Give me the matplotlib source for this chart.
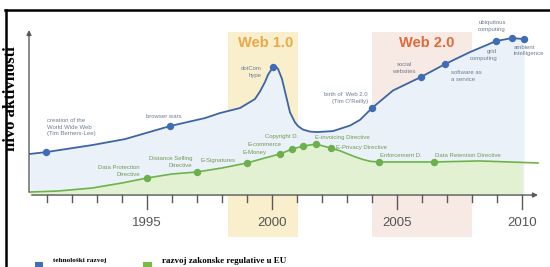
import matplotlib.pyplot as plt
from matplotlib.patches import Rectangle
from matplotlib.lines import Line2D

# tehnoloski razvoj - curve (year, activity level)
tech_years = [1990.32, 1990.96, 1992.8, 1994.12, 1995.92, 1997.32, 1997.92, 1998.72,
              1999.32, 1999.52, 1999.72, 1999.84, 2000.04, 2000.16, 2000.24, 2000.4,
              2000.52, 2000.64, 2000.72, 2000.92, 2001.04, 2001.24, 2001.52, 2001.8,
              2002.44, 2003.12, 2003.52, 2004.0, 2004.44, 2004.84, 2005.96, 2006.92,
              2007.92, 2008.96, 2009.6, 2010.08]
tech_level = [24.6, 25.7, 29.9, 33.5, 41.3, 46.1, 49.1, 52.1,
              57.5, 62.0, 67.7, 72.0, 76.6, 76.8, 75.6, 69.5,
              62.0, 54.5, 49.5, 43.5, 41.3, 39.2, 38.0, 37.7,
              38.3, 41.6, 45.0, 52.1, 57.6, 62.6, 70.7, 78.4,
              85.6, 92.2, 94.0, 93.4]

# regulative curve
law_years = [1990.32, 1991.44, 1992.8, 1994.0, 1995.0, 1996.0, 1997.0, 1998.0,
             1999.0, 1999.72, 2000.32, 2000.8, 2001.24, 2001.76, 2002.36, 2002.72,
             2003.0, 2003.32, 2003.64, 2003.92, 2004.28, 2006.48, 2008.32, 2010.64]
law_level = [1.8, 2.4, 4.2, 7.2, 10.2, 12.6, 13.8, 16.2,
             19.2, 22.2, 24.6, 27.5, 29.3, 30.5, 28.1, 26.5,
             24.8, 22.9, 21.3, 20.2, 19.8, 19.8, 20.4, 19.2]

tech_ev_years = [1990.96, 1995.92, 2000.04, 2004.0, 2005.96, 2006.92, 2008.96, 2009.6, 2010.08]
tech_ev_level = [25.7, 41.3, 76.6, 52.1, 70.7, 78.4, 92.2, 94.0, 93.4]
tech_ev_labels = ["creation of the\nWorld Wide Web\n(Tim Berners-Lee)", "browser wars",
                  "dotCom\nhype", "birth of  Web 2.0\n(Tim O'Reilly)", "social\nwebsites",
                  "software as\na service", "grid\ncomputing", "ubiquitous\ncomputing",
                  "ambient\nintelligence"]

law_ev_years = [1995.0, 1997.0, 1999.0, 2000.32, 2000.8, 2001.24, 2001.76, 2002.36, 2004.28, 2006.48]
law_ev_level = [10.2, 13.8, 19.2, 24.6, 27.5, 29.3, 30.5, 28.1, 19.8, 19.8]
law_ev_labels = ["Data Protection\nDirective", "Distance Selling\nDirective", "E-Signatures",
                 "E-Money", "E-commerce", "Copyright D.", "E-invoicing Directive",
                 "E-Privacy Directive", "Enforcement D.", "Data Retention Directive"]

year_ticks = list(range(1991, 2011))
year_labels = [1995, 2000, 2005, 2010]
eras = ["Web 1.0", "Web 2.0"]
era_spans = [(1998.24, 2001.04), (2004.0, 2008.0)]

# label placement (x, y, ha, multialignment)
tech_pos = [(1991.0, 40.7, 'left', 'left'), (1995.68, 47.3, 'center', 'center'),
            (1999.6, 73.5, 'right', 'right'), (2003.84, 58.1, 'right', 'right'),
            (2005.76, 76.3, 'right', 'center'), (2007.16, 71.3, 'left', 'left'),
            (2009.0, 83.8, 'right', 'right'), (2008.8, 101.2, 'center', 'left'),
            (2009.68, 86.5, 'left', 'left')]
law_pos = [(1994.72, 14.4, 'right', 'right'), (1996.8, 19.8, 'right', 'right'),
           (1997.84, 20.4, 'center', 'center'), (1998.8, 25.7, 'left', 'left'),
           (1999.0, 30.5, 'left', 'left'), (1999.72, 35.3, 'left', 'left'),
           (2001.72, 34.7, 'left', 'left'), (2002.56, 28.7, 'left', 'left'),
           (2004.32, 23.4, 'left', 'left'), (2006.52, 23.4, 'left', 'left')]

fig = plt.figure(figsize=(5.5, 2.67), dpi=100)
ax = fig.add_axes([0, 0, 1, 1])
ax.set_xlim(1989.12, 2011.12)
ax.set_ylim(-43.1, 116.8)
ax.axis('off')

band_cols = ['#f9efcd', '#f7e9e4']
era_cols = ['#e8a94a', '#e06a3c']
for (a, b), c, name, tc in zip(era_spans, band_cols, eras, era_cols):
    ax.add_patch(Rectangle((a, -25.1), b - a, 122.7, color=c, zorder=0, lw=0))
    ax.text((a + b) / 2 + (0.1 if name == "Web 1.0" else 0.2), 91.2, name, color=tc,
            fontsize=10.5, fontweight='bold', family='Liberation Sans',
            ha='center', va='center', zorder=5)

ax.fill_between(tech_years, tech_level, 0, color='#ebf1f8', lw=0, zorder=1)
gfill = ax.fill_between(law_years, law_level, 0, color='#e2f1d2', lw=0, zorder=2)
gfill.set_clip_path(Rectangle((1990.0, -5), 2010.0 - 1990.0, 120, transform=ax.transData))

ax.plot(tech_years, tech_level, color='#3d64a3', lw=1.3, zorder=3, solid_joinstyle='round')
ax.plot(law_years, law_level, color='#6cb34a', lw=1.2, zorder=3, solid_joinstyle='round')
ax.plot(tech_ev_years, tech_ev_level, 'o', color='#3f6db5', ms=4.3, zorder=4)
ax.plot(law_ev_years, law_ev_level, 'o', color='#6ab04c', ms=4.3, zorder=4)

for lab, (x, y, ha, ma) in zip(tech_ev_labels, tech_pos):
    ax.text(x, y, lab, fontsize=4.3, color='#6d7d92', ha=ha, va='center',
            multialignment=ma, linespacing=1.45, family='Liberation Sans', zorder=5)
for lab, (x, y, ha, ma) in zip(law_ev_labels, law_pos):
    ax.text(x, y, lab, fontsize=4.3, color='#6f9a55', ha=ha, va='center',
            multialignment=ma, linespacing=1.45, family='Liberation Sans', zorder=5)

# axes with arrows
axc = '#5a5a5a'
ax.annotate('', xy=(1990.28, 100.5), xytext=(1990.28, 0), zorder=3,
            arrowprops=dict(arrowstyle='-|>', color=axc, lw=1, mutation_scale=7))
ax.annotate('', xy=(2010.75, 0), xytext=(1990.28, 0), zorder=3,
            arrowprops=dict(arrowstyle='-|>', color=axc, lw=1, mutation_scale=7))
for yr in year_ticks:
    low = -8.4 if yr in year_labels else -4.2
    ax.plot([yr, yr], [0, low], color=axc, lw=1, zorder=3)
for yr in year_labels:
    ax.text(yr, -16.8, str(yr), fontsize=9.5, color='#555555', ha='center', va='center',
            family='Liberation Sans')

ax.text(1989.56, 57.5, 'nivo aktivnosti', rotation=90, fontsize=12, fontweight='bold',
        family='Liberation Serif', ha='center', va='center')

# legend at the bottom
ax.add_patch(Rectangle((1990.52, -45), 0.32, 4.9, color='#3f6fb5', lw=0, clip_on=False))
ax.add_patch(Rectangle((1994.84, -45), 0.36, 4.9, color='#77bb44', lw=0, clip_on=False))
ax.text(1991.24, -39.3, 'tehnološki razvoj', fontsize=5.2, fontweight='bold',
        family='Liberation Serif', va='center')
ax.text(1995.6, -39.3, 'razvoj zakonske regulative u EU', fontsize=6.5, fontweight='bold',
        family='Liberation Serif', va='center')

# frame lines of the original picture
fig.add_artist(Line2D([0.009, 1.0], [0.9625, 0.9625], color='black', lw=1.8,
                      transform=fig.transFigure))
fig.add_artist(Line2D([0.0118, 0.0118], [0.0, 0.9625], color='black', lw=1.8,
                      transform=fig.transFigure))

fig.savefig('out.png', dpi=100)
